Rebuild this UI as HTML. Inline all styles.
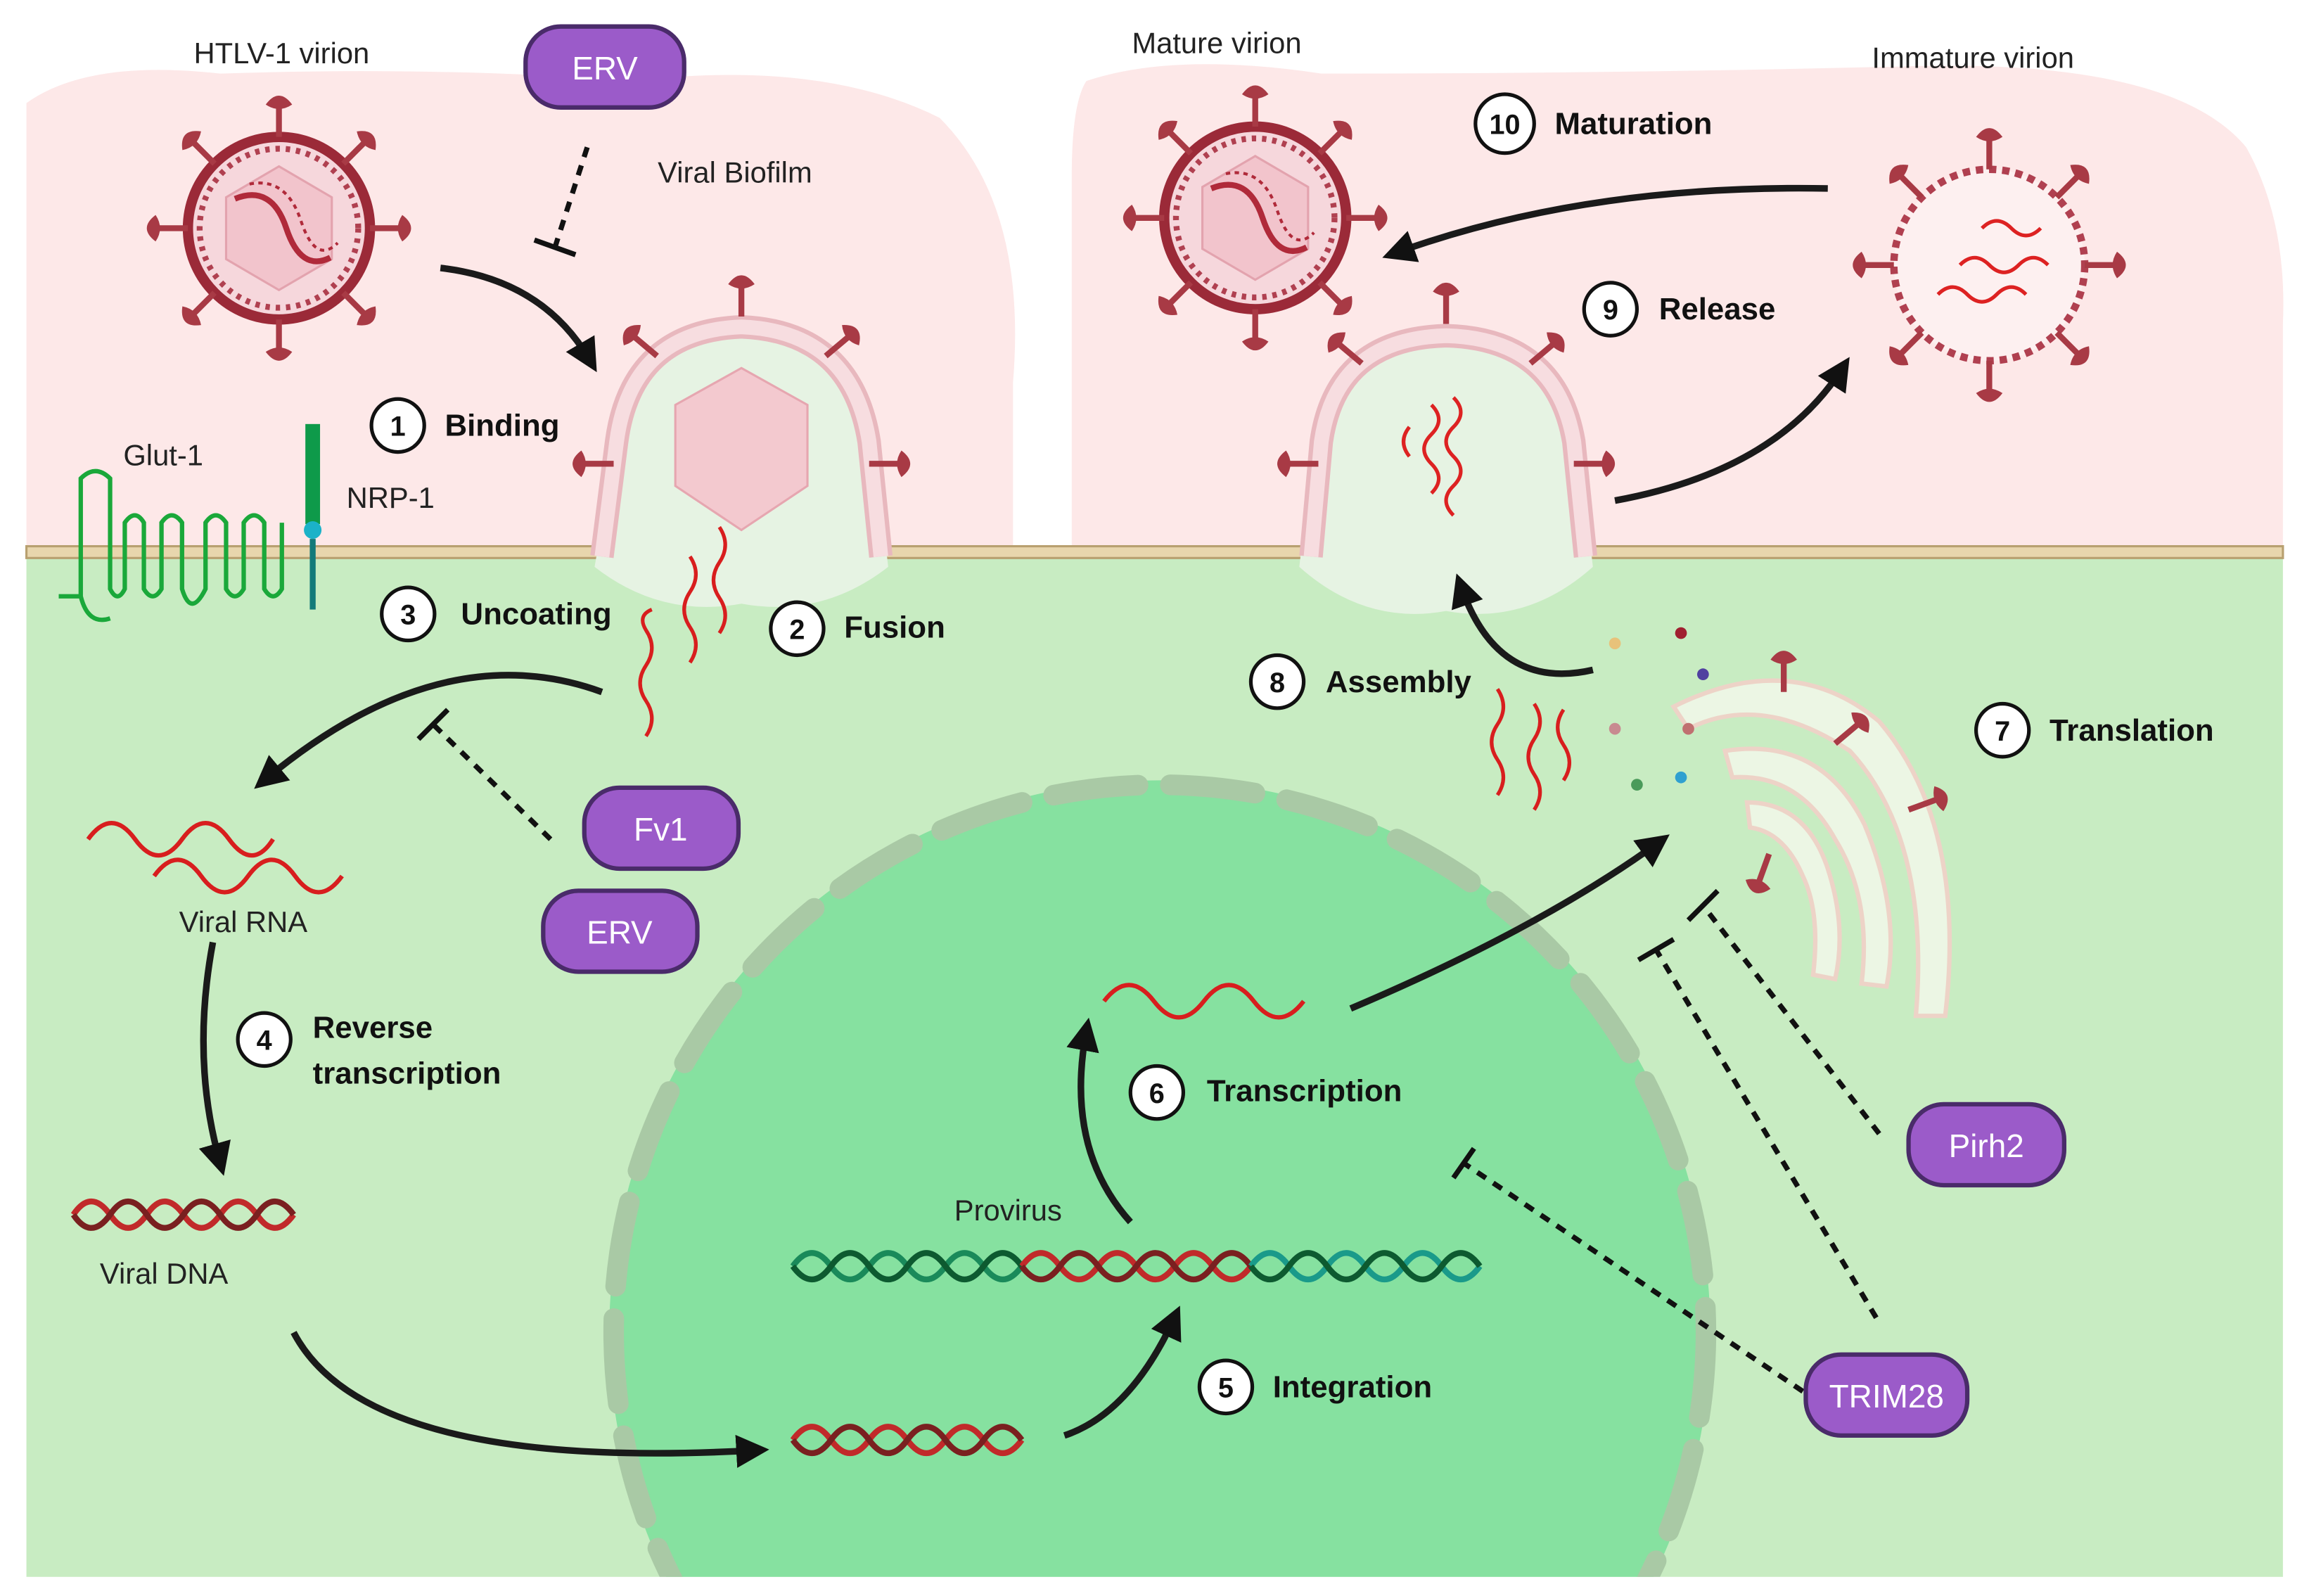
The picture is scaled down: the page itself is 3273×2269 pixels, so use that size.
<!DOCTYPE html>
<html><head><meta charset="utf-8"><style>
html,body{margin:0;padding:0;background:#fff;width:3273px;height:2269px;overflow:hidden}
svg{display:block;width:3273px;height:2269px}
text{font-family:"Liberation Sans",Arial,sans-serif}
</style></head><body>
<svg width="3273" height="2269" viewBox="0 0 1568 1084" preserveAspectRatio="none" xmlns="http://www.w3.org/2000/svg">
<defs>
<marker id="ah" viewBox="0 0 10 10" refX="6" refY="5" markerWidth="5" markerHeight="5" orient="auto"><path d="M0,0L10,5L0,10z" fill="#111"/></marker>
<g id="spike"><line x1="0" y1="0" x2="0" y2="-22" stroke="#a83a45" stroke-width="4"/><path d="M-9,-22 Q0,-34 9,-22 Q0,-16 -9,-22z" fill="#a83a45"/></g>
<g id="virion">
<circle r="62" fill="#f6d7dc" stroke="#9b2a38" stroke-width="7"/>
<circle r="54" fill="none" stroke="#b04050" stroke-width="4" stroke-dasharray="3 4"/>
<polygon points="0,-42 36,-21 36,21 0,42 -36,21 -36,-21" fill="#f2c4cc" stroke="#e3a3ae" stroke-width="1.5"/>
<use href="#spike" transform="translate(0,-62)"/>
<use href="#spike" transform="rotate(45) translate(0,-62)"/>
<use href="#spike" transform="rotate(90) translate(0,-62)"/>
<use href="#spike" transform="rotate(135) translate(0,-62)"/>
<use href="#spike" transform="rotate(180) translate(0,-62)"/>
<use href="#spike" transform="rotate(225) translate(0,-62)"/>
<use href="#spike" transform="rotate(270) translate(0,-62)"/>
<use href="#spike" transform="rotate(315) translate(0,-62)"/>
<path d="M-30,-20 Q-5,-30 5,0 Q15,30 35,20" fill="none" stroke="#b02a3a" stroke-width="4"/>
<path d="M-20,-30 Q5,-35 15,-5 Q25,25 40,10" fill="none" stroke="#b02a3a" stroke-width="2" stroke-dasharray="3 3"/>
</g>
</defs>
<rect x="18" y="375" width="1537" height="696" fill="#c8ecc2"/>
<path d="M18,70 Q60,40 150,50 Q300,45 430,55 Q560,40 640,80 Q700,140 690,260 L690,372 L18,372z" fill="#fde8e8"/>
<path d="M740,55 Q800,35 900,50 Q1100,50 1300,45 Q1480,40 1530,100 Q1558,150 1555,220 L1555,372 L730,372 L730,120 Q730,70 740,55z" fill="#fde8e8"/>
<clipPath id="cl"><rect x="18" y="375" width="1537" height="696"/></clipPath>
<g clip-path="url(#cl)">
<circle cx="790" cy="905" r="375" fill="#86e1a0"/>
<circle cx="790" cy="905" r="372" fill="none" stroke="#a9c9a5" stroke-width="14" stroke-dasharray="58 22" stroke-linecap="round"/>
</g>
<rect x="18" y="371" width="1537" height="8" fill="#e8d6ad" stroke="#b8a070" stroke-width="1.5"/>
<path d="M405,385 L420,300 Q430,220 505,215 Q585,220 595,300 L605,385 Q560,420 505,410 Q450,420 405,385z" fill="#e6f3e3"/>
<path d="M410,378 L420,300 Q430,225 505,222 Q580,225 592,300 L600,378" fill="none" stroke="#e8b8be" stroke-width="16"/>
<path d="M410,378 L420,300 Q430,225 505,222 Q580,225 592,300 L600,378" fill="none" stroke="#f7dde0" stroke-width="10"/>
<polygon points="505,250 550,275 550,330 505,360 460,330 460,275" fill="#f3c9cf" stroke="#e6a6b0" stroke-width="1.5"/>
<use href="#spike" transform="translate(505,215)"/>
<use href="#spike" transform="rotate(-50 505 290) translate(505,215)"/>
<use href="#spike" transform="rotate(50 505 290) translate(505,215)"/>
<use href="#spike" transform="translate(418,315) rotate(-90)"/>
<use href="#spike" transform="translate(592,315) rotate(90)"/>
<path d="M885,385 L895,300 Q905,225 985,222 Q1065,225 1075,300 L1085,385 Q1040,425 985,415 Q930,425 885,385z" fill="#e6f3e3"/>
<path d="M893,378 L900,300 Q910,230 985,228 Q1060,230 1072,300 L1080,378" fill="none" stroke="#e8b8be" stroke-width="16"/>
<path d="M893,378 L900,300 Q910,230 985,228 Q1060,230 1072,300 L1080,378" fill="none" stroke="#f7dde0" stroke-width="10"/>
<use href="#spike" transform="translate(985,220)"/>
<use href="#spike" transform="rotate(-50 985 295) translate(985,220)"/>
<use href="#spike" transform="rotate(50 985 295) translate(985,220)"/>
<use href="#spike" transform="translate(898,315) rotate(-90)"/>
<use href="#spike" transform="translate(1072,315) rotate(90)"/>
<g fill="none" stroke="#d22" stroke-width="2.5">
<path d="M975,275 q10,10 0,20 q-10,10 0,20 q10,10 0,20"/>
<path d="M990,270 q10,10 0,20 q-10,10 0,20 q10,10 0,20 q-10,10 0,20"/>
<path d="M960,290 q-8,10 0,20"/>
</g>
<use href="#virion" transform="translate(190,155)"/>
<use href="#virion" transform="translate(855,148)"/>
<g transform="translate(1355,180)">
<circle r="65" fill="#fdf0f0" stroke="#b04050" stroke-width="5" stroke-dasharray="5 4"/>
<use href="#spike" transform="translate(0,-65)"/><use href="#spike" transform="rotate(45) translate(0,-65)"/><use href="#spike" transform="rotate(90) translate(0,-65)"/><use href="#spike" transform="rotate(135) translate(0,-65)"/><use href="#spike" transform="rotate(180) translate(0,-65)"/><use href="#spike" transform="rotate(225) translate(0,-65)"/><use href="#spike" transform="rotate(270) translate(0,-65)"/><use href="#spike" transform="rotate(315) translate(0,-65)"/>
<g fill="none" stroke="#d22" stroke-width="2.5"><path d="M-20,0 q10,-10 20,0 q10,10 20,0 q10,-10 20,0"/><path d="M-35,20 q10,-10 20,0 q10,10 20,0 q10,-10 20,0"/><path d="M-5,-25 q10,-10 20,0 q10,10 20,0"/></g>
</g>
<path d="M40,405 L55,405 L55,325 Q65,315 75,325 L75,400 Q80,410 85,400 L85,355 Q92,345 98,355 L98,400 Q104,410 110,400 L110,355 Q117,345 124,355 L124,400 Q130,420 140,400 L140,355 Q147,345 154,355 L154,400 Q160,410 166,400 L166,355 Q173,345 180,355 L180,400 Q186,410 192,400 L192,355 M55,405 Q60,425 75,420" fill="none" stroke="#1aa83a" stroke-width="3"/>
<rect x="208" y="288" width="10" height="68" fill="#0e9a4a"/>
<circle cx="213" cy="360" r="6" fill="#1bb2c8"/>
<rect x="211" y="366" width="4" height="48" fill="#137a7a"/>
<g fill="#eef7e6" stroke="#f0d2c8" stroke-width="3" opacity="0.95">
<path d="M1140,480 Q1220,440 1280,490 Q1340,560 1325,690 L1305,690 Q1315,570 1260,510 Q1200,470 1150,495z"/>
<path d="M1175,510 Q1240,500 1270,560 Q1295,620 1285,670 L1268,668 Q1275,610 1250,570 Q1225,525 1180,528z"/>
<path d="M1190,545 Q1230,545 1245,590 Q1258,630 1250,665 L1235,662 Q1240,620 1228,595 Q1215,565 1192,562z"/>
</g>
<use href="#spike" transform="translate(1215,470)"/>
<use href="#spike" transform="translate(1250,505) rotate(50)"/>
<use href="#spike" transform="translate(1300,550) rotate(70)"/>
<use href="#spike" transform="translate(1205,580) rotate(200)"/>
<g fill="none" stroke="#d81e1e" stroke-width="2.5">
<path d="M440,500 q8,-12 0,-24 q-8,-12 0,-24 q8,-12 0,-24 q-6,-10 4,-14"/>
<path d="M470,450 q8,-12 0,-24 q-8,-12 0,-24 q8,-12 0,-24"/>
<path d="M490,430 q8,-12 0,-24 q-8,-12 0,-24 q8,-12 0,-24"/>
<path d="M1020,540 q8,-12 0,-24 q-8,-12 0,-24 q8,-12 0,-24"/>
<path d="M1045,550 q8,-12 0,-24 q-8,-12 0,-24 q8,-12 0,-24"/>
<path d="M1065,530 q8,-12 0,-24 q-8,-12 0,-24"/>
<path d="M60,570 q16,-22 32,0 q16,22 32,0 q16,-22 32,0 q16,22 30,0" stroke-width="3"/>
<path d="M105,595 q16,-22 32,0 q16,22 32,0 q16,-22 32,0 q16,22 32,0" stroke-width="3"/>
<path d="M752,680 q17,-22 34,0 q17,22 34,0 q17,-22 34,0 q17,22 34,0" stroke-width="3"/>
</g>
<g><circle cx="1100" cy="437" r="4" fill="#e8c27a"/><circle cx="1145" cy="430" r="4" fill="#a02030"/><circle cx="1160" cy="458" r="4" fill="#5040a0"/><circle cx="1100" cy="495" r="4" fill="#c88a90"/><circle cx="1150" cy="495" r="4" fill="#c07070"/><circle cx="1115" cy="533" r="4" fill="#4a9a5a"/><circle cx="1145" cy="528" r="4" fill="#30a0d0"/></g>
<g fill="none" stroke-width="4">
<path d="M50,825 q12,-18 25,0 q12,18 25,0 q12,-18 25,0 q12,18 25,0 q12,-18 25,0 q12,18 25,0" stroke="#c12a2a"/>
<path d="M50,825 q12,18 25,0 q12,-18 25,0 q12,18 25,0 q12,-18 25,0 q12,18 25,0 q12,-18 25,0" stroke="#7a2020"/>
<path d="M540,978 q13,-18 26,0 q13,18 26,0 q13,-18 26,0 q13,18 26,0 q13,-18 26,0 q13,18 26,0" stroke="#c12a2a"/>
<path d="M540,978 q13,18 26,0 q13,-18 26,0 q13,18 26,0 q13,-18 26,0 q13,18 26,0 q13,-18 26,0" stroke="#7a2020"/>
<path d="M540,860 q13,-18 26,0 q13,18 26,0 q13,-18 26,0 q13,18 26,0 q13,-18 26,0 q13,18 26,0" stroke="#1a8a5a"/>
<path d="M540,860 q13,18 26,0 q13,-18 26,0 q13,18 26,0 q13,-18 26,0 q13,18 26,0 q13,-18 26,0" stroke="#0d5a30"/>
<path d="M696,860 q13,-18 26,0 q13,18 26,0 q13,-18 26,0 q13,18 26,0 q13,-18 26,0 q13,18 26,0" stroke="#c12a2a"/>
<path d="M696,860 q13,18 26,0 q13,-18 26,0 q13,18 26,0 q13,-18 26,0 q13,18 26,0 q13,-18 26,0" stroke="#7a2020"/>
<path d="M852,860 q13,-18 26,0 q13,18 26,0 q13,-18 26,0 q13,18 26,0 q13,-18 26,0 q13,18 26,0" stroke="#1a9a8a"/>
<path d="M852,860 q13,18 26,0 q13,-18 26,0 q13,18 26,0 q13,-18 26,0 q13,18 26,0 q13,-18 26,0" stroke="#0d5a30"/>
</g>
<g fill="none" stroke="#1a1a1a" stroke-width="4.5" marker-end="url(#ah)">
<path d="M300,182 Q370,190 402,245"/>
<path d="M410,470 Q300,430 180,530"/>
<path d="M145,640 Q130,720 150,790"/>
<path d="M200,905 Q250,1000 515,985"/>
<path d="M725,975 Q770,960 800,895"/>
<path d="M770,830 Q725,780 740,700"/>
<path d="M920,685 Q1050,630 1130,572"/>
<path d="M1085,455 Q1020,470 995,398"/>
<path d="M1100,340 Q1210,320 1255,250"/>
<path d="M1245,128 Q1080,125 950,172"/>
</g>
<g fill="none" stroke="#111" stroke-width="3.5">
<path d="M400,100 L378,168" stroke-dasharray="7 6"/><path d="M364,163 L392,173"/>
<path d="M375,570 L295,492" stroke-dasharray="7 6"/><path d="M285,502 L305,482"/>
<path d="M1280,770 L1160,615" stroke-dasharray="7 6"/><path d="M1150,625 L1170,605"/>
<path d="M1278,895 L1128,645" stroke-dasharray="7 6"/><path d="M1116,652 L1140,638"/>
<path d="M1228,945 L997,790" stroke-dasharray="7 6"/><path d="M990,800 L1004,780"/>
</g>
<g fill="#9b5bc9" stroke="#4a2b6a" stroke-width="3">
<rect x="358" y="18" width="108" height="55" rx="24"/>
<rect x="398" y="535" width="105" height="55" rx="24"/>
<rect x="370" y="605" width="105" height="55" rx="24"/>
<rect x="1300" y="750" width="106" height="55" rx="24"/>
<rect x="1230" y="920" width="110" height="55" rx="24"/>
</g>
<g fill="#fff" font-size="22" text-anchor="middle">
<text x="412" y="54">ERV</text><text x="450" y="571">Fv1</text><text x="422" y="641">ERV</text><text x="1353" y="786">Pirh2</text><text x="1285" y="956">TRIM28</text>
</g>
<g fill="#fff" stroke="#111" stroke-width="2.5">
<circle cx="271" cy="289" r="18"/><circle cx="543" cy="427" r="18"/><circle cx="278" cy="417" r="18"/><circle cx="180" cy="706" r="18"/><circle cx="835" cy="942" r="18"/><circle cx="788" cy="742" r="18"/><circle cx="1364" cy="496" r="18"/><circle cx="870" cy="463" r="18"/><circle cx="1097" cy="210" r="18"/><circle cx="1025" cy="84" r="20"/>
</g>
<g font-size="19" font-weight="bold" text-anchor="middle" fill="#111">
<text x="271" y="296">1</text><text x="543" y="434">2</text><text x="278" y="424">3</text><text x="180" y="713">4</text><text x="835" y="949">5</text><text x="788" y="749">6</text><text x="1364" y="503">7</text><text x="870" y="470">8</text><text x="1097" y="217">9</text><text x="1025" y="91">10</text>
</g>
<g font-size="21" font-weight="bold" fill="#111">
<text x="303" y="296">Binding</text><text x="575" y="433">Fusion</text><text x="314" y="424">Uncoating</text><text x="213" y="705">Reverse</text><text x="213" y="736">transcription</text><text x="867" y="949">Integration</text><text x="822" y="748">Transcription</text><text x="1396" y="503">Translation</text><text x="903" y="470">Assembly</text><text x="1130" y="217">Release</text><text x="1059" y="91">Maturation</text>
</g>
<g font-size="20" fill="#222">
<text x="132" y="43">HTLV-1 virion</text><text x="448" y="124">Viral Biofilm</text><text x="84" y="316">Glut-1</text><text x="236" y="345">NRP-1</text><text x="771" y="36">Mature virion</text><text x="1275" y="46">Immature virion</text><text x="122" y="633">Viral RNA</text><text x="68" y="872">Viral DNA</text><text x="650" y="829">Provirus</text>
</g>
</svg>
</body></html>
